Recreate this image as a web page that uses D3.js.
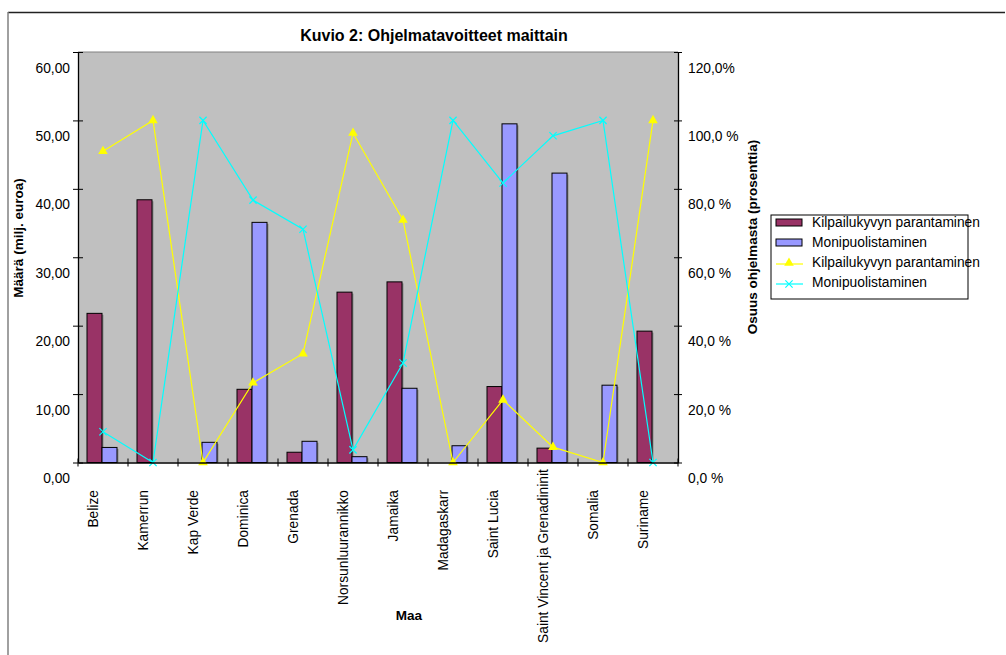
<!DOCTYPE html>
<html>
<head>
<meta charset="utf-8">
<script src="https://unpkg.com/d3@7/dist/d3.min.js"></script>
<style>
  body { margin: 0; background: #fff; }
  svg { display: block; font-family: "Liberation Sans", Arial, sans-serif; }
</style>
</head>
<body>
<div class="chart"></div>
<script>
// data
const countries = ["Belize", "Kamerrun", "Kap Verde", "Dominica", "Grenada", "Norsunluurannikko",
  "Jamaika", "Madagaskarr", "Saint Lucia", "Saint Vincent ja Grenadininit", "Somalia", "Suriname"];
const kilpailuMeur = [21.8, 38.4, 0, 10.7, 1.5, 24.9, 26.4, 0, 11.1, 2.1, 0, 19.2];
const monipuoliMeur = [2.2, 0, 2.95, 35.1, 3.1, 0.85, 10.85, 2.45, 49.5, 42.3, 11.3, 0];
const kilpailuPct = [91, 100, 0, 23.3, 31.8, 96.3, 70.9, 0, 18.3, 4.5, 0, 100];
const monipuoliPct = [9, 0, 100, 76.7, 68.2, 3.7, 29.1, 100, 81.7, 95.5, 100, 0];
const seriesNames = ["Kilpailukyvyn parantaminen", "Monipuolistaminen"];
const leftTicks = [0, 10, 20, 30, 40, 50, 60];
const rightTicks = [0, 20, 40, 60, 80, 100, 120];
const rightTickLabels = ["0,0 %", "20,0 %", "40,0 %", "60,0 %", "80,0 %", "100,0 %", "120,0%"];

const W = 1006, H = 655;
const plot = { left: 78, right: 678, top: 52, bottom: 462.5 };
const colors = { bar1: "#993366", bar2: "#9999ff", line1: "#ffff00", line2: "#00ffff" };
const fs = "13.8px";

const svg = d3.select(".chart").append("svg")
  .attr("width", W).attr("height", H);

// outer frame
svg.append("line").attr("x1", 8).attr("x2", 1005).attr("y1", 12.5).attr("y2", 12.5)
  .attr("stroke", "#222").attr("stroke-width", 1.5);
svg.append("line").attr("x1", 8).attr("x2", 8).attr("y1", 12).attr("y2", H)
  .attr("stroke", "#808080").attr("stroke-width", 1.5);

// title
svg.append("text").attr("x", 434).attr("y", 41).attr("text-anchor", "middle")
  .attr("font-size", "16px").attr("font-weight", "bold").text("Kuvio 2: Ohjelmatavoitteet maittain");

// scales
const x0 = d3.scaleBand().domain(countries).range([plot.left, plot.right]);
const x1 = d3.scaleBand().domain(seriesNames).range([9, 39]);
const yL = d3.scaleLinear().domain([0, 60]).range([plot.bottom, plot.top]);
const yR = d3.scaleLinear().domain([0, 120]).range([plot.bottom, plot.top]);

// plot background
svg.append("rect").attr("x", plot.left).attr("y", plot.top)
  .attr("width", plot.right - plot.left).attr("height", plot.bottom - plot.top)
  .attr("fill", "#c0c0c0");
svg.append("line").attr("x1", plot.left).attr("x2", plot.right)
  .attr("y1", plot.top).attr("y2", plot.top).attr("stroke", "#808080");

// bars
const barData = [];
countries.forEach((c, i) => {
  barData.push({ c, s: seriesNames[0], v: kilpailuMeur[i], fill: colors.bar1 });
  barData.push({ c, s: seriesNames[1], v: monipuoliMeur[i], fill: colors.bar2 });
});
const bars = barData.filter(d => d.v > 0);
svg.append("g").selectAll("rect.shadow").data(bars).join("rect")
  .attr("class", "shadow")
  .attr("x", d => x0(d.c) + x1(d.s) + 1.5)
  .attr("y", d => yL(d.v) + 1.5)
  .attr("width", x1.bandwidth())
  .attr("height", d => yL(0) - yL(d.v) - 1.5)
  .attr("fill", "#8a8a8a");
svg.append("g").selectAll("rect.bar").data(bars).join("rect")
  .attr("class", "bar")
  .attr("x", d => x0(d.c) + x1(d.s))
  .attr("y", d => yL(d.v))
  .attr("width", x1.bandwidth())
  .attr("height", d => yL(0) - yL(d.v))
  .attr("fill", d => d.fill)
  .attr("stroke", "#000").attr("stroke-width", 1);

// lines on the secondary axis
const cx = c => x0(c) + x0.bandwidth() / 2;
const line = d3.line().x(d => cx(d.c)).y(d => yR(d.v));
const pts1 = countries.map((c, i) => ({ c, v: kilpailuPct[i] }));
const pts2 = countries.map((c, i) => ({ c, v: monipuoliPct[i] }));

svg.append("path").datum(pts1).attr("d", line)
  .attr("fill", "none").attr("stroke", colors.line1).attr("stroke-width", 1.2);
svg.append("path").datum(pts2).attr("d", line)
  .attr("fill", "none").attr("stroke", colors.line2).attr("stroke-width", 1.2);

const tri = d3.symbol().type(d3.symbolTriangle).size(40);
svg.append("g").selectAll("path").data(pts1).join("path")
  .attr("d", tri)
  .attr("transform", d => `translate(${cx(d.c)},${yR(d.v)})`)
  .attr("fill", colors.line1);
const cross = d3.symbol().type(d3.symbolX).size(36);
svg.append("g").selectAll("path").data(pts2).join("path")
  .attr("d", cross)
  .attr("transform", d => `translate(${cx(d.c)},${yR(d.v)})`)
  .attr("fill", "none").attr("stroke", colors.line2).attr("stroke-width", 1.2);

// axes
const fi = d3.formatLocale({ decimal: ",", thousands: " ", grouping: [3], currency: ["", " €"] });
const leftAxis = d3.axisLeft(yL).tickValues(leftTicks).tickFormat(fi.format(".2f"))
  .tickSizeInner(5).tickSizeOuter(0).tickPadding(4);
const gL = svg.append("g").attr("transform", `translate(${plot.left},0)`).call(leftAxis);
gL.selectAll(".tick line").attr("x2", -5).attr("x1", 5);
gL.selectAll(".tick text").attr("dy", "1.45em").attr("x", -8);

const rightAxis = d3.axisRight(yR).tickValues(rightTicks).tickFormat((d, i) => rightTickLabels[i])
  .tickSizeInner(4).tickSizeOuter(0).tickPadding(6);
const gR = svg.append("g").attr("transform", `translate(${plot.right},0)`).call(rightAxis);
gR.selectAll(".tick line").attr("x1", -4).attr("x2", 4);
gR.selectAll(".tick text").attr("dy", "1.45em").attr("x", 10);

const bottomAxis = d3.axisBottom(x0).tickValues([]).tickSizeOuter(0);
const gB = svg.append("g").attr("transform", `translate(0,${plot.bottom})`).call(bottomAxis);
const bTicks = x0.domain().map(c => x0(c)).concat([plot.right]);
gB.selectAll("line.t").data(bTicks).join("line").attr("class", "t")
  .attr("x1", d => d).attr("x2", d => d).attr("y1", -4).attr("y2", 4).attr("stroke", "#000");

[gL, gR, gB].forEach(g => {
  g.select(".domain").attr("stroke", "#000").attr("stroke-width", 1.3);
  g.selectAll("text").attr("font-size", fs).attr("fill", "#000")
    .attr("font-family", "Liberation Sans, Arial, sans-serif");
});

// category labels, rotated; long ones pushed up so they stay inside the page
const catLabels = svg.append("g").selectAll("text").data(countries).join("text")
  .attr("text-anchor", "start")
  .attr("font-size", fs)
  .text(c => c);
catLabels.each(function (c) {
  const len = this.getComputedTextLength();
  const top = Math.min(490, 643 - len);
  d3.select(this).attr("transform", `translate(${cx(c) - 5},${top + len}) rotate(-90)`);
});

// axis titles
svg.append("text").attr("transform", "translate(23,238) rotate(-90)")
  .attr("text-anchor", "middle").attr("font-size", "13.5px").attr("font-weight", "bold")
  .text("Määrä (milj. euroa)");
svg.append("text").attr("transform", "translate(757,237) rotate(-90)")
  .attr("text-anchor", "middle").attr("font-size", "13.5px").attr("font-weight", "bold")
  .text("Osuus ohjelmasta (prosenttia)");
svg.append("text").attr("x", 409).attr("y", 620).attr("text-anchor", "middle")
  .attr("font-size", "13.5px").attr("font-weight", "bold").text("Maa");

// legend
const legend = svg.append("g").attr("transform", "translate(771,215)");
legend.append("rect").attr("width", 197).attr("height", 84)
  .attr("fill", "#fff").attr("stroke", "#000");
const legendItems = [
  { name: seriesNames[0], kind: "bar", color: colors.bar1 },
  { name: seriesNames[1], kind: "bar", color: colors.bar2 },
  { name: seriesNames[0], kind: "tri", color: colors.line1 },
  { name: seriesNames[1], kind: "x", color: colors.line2 }
];
const li = legend.selectAll("g.item").data(legendItems).join("g").attr("class", "item")
  .attr("transform", (d, i) => `translate(0,${8 + i * 20})`);
li.filter(d => d.kind === "bar").append("rect")
  .attr("x", 5).attr("y", -4).attr("width", 26).attr("height", 7)
  .attr("fill", d => d.color).attr("stroke", "#000");
li.filter(d => d.kind !== "bar").append("line")
  .attr("x1", 5).attr("x2", 32).attr("y1", 1).attr("y2", 1)
  .attr("stroke", d => d.color).attr("stroke-width", 1.2);
li.filter(d => d.kind === "tri").append("path").attr("d", tri)
  .attr("transform", "translate(18,0)").attr("fill", d => d.color);
li.filter(d => d.kind === "x").append("path").attr("d", cross)
  .attr("transform", "translate(18,1)").attr("fill", "none")
  .attr("stroke", d => d.color).attr("stroke-width", 1.2);
li.append("text").attr("x", 41).attr("y", 4).attr("font-size", fs).text(d => d.name);
</script>
</body>
</html>
